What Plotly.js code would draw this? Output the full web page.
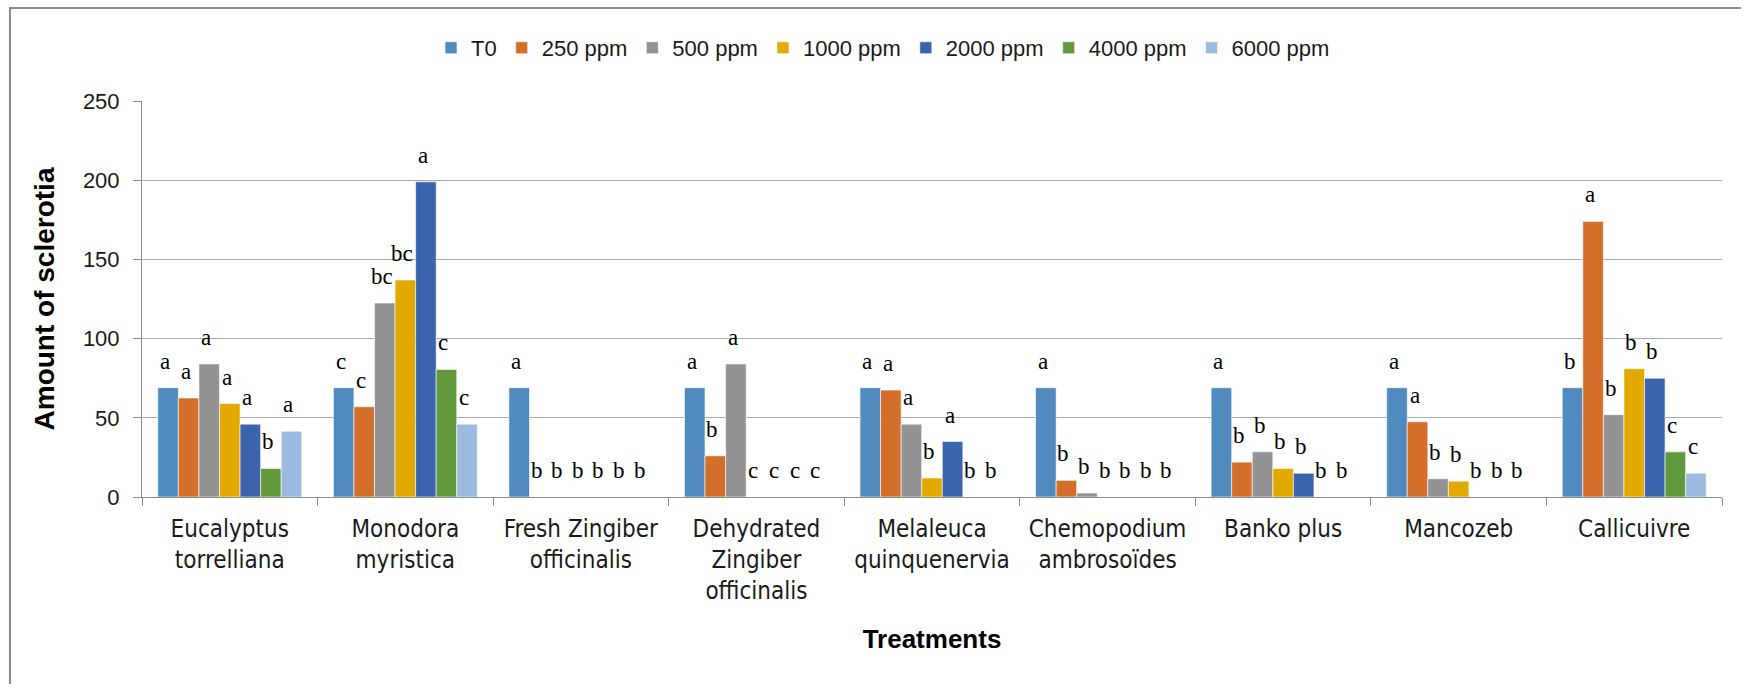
<!DOCTYPE html>
<html>
<head>
<meta charset="utf-8">
<script src="https://cdn.plot.ly/plotly-3.0.1.min.js"></script>
<style>
  html, body { margin: 0; padding: 0; background: #fff; overflow: hidden; width: 1745px; height: 688px; }
  #chart { position: absolute; left: 0; top: 0; width: 1745px; height: 688px; }
  #frame { position: absolute; left: 9px; top: 7px; width: 1730px; height: 675px;
           border-left: 2px solid #8c8c8c; border-top: 2px solid #8c8c8c; pointer-events: none; }
</style>
</head>
<body>
<div id="chart"></div>
<div id="frame"></div>
<script>
const categories = [
  "Eucalyptus<br>torrelliana",
  "Monodora<br>myristica",
  "Fresh Zingiber<br>officinalis",
  "Dehydrated<br>Zingiber<br>officinalis",
  "Melaleuca<br>quinquenervia",
  "Chemopodium<br>ambrosoïdes",
  "Banko plus",
  "Mancozeb",
  "Callicuivre"
];
const seriesNames = ["T0", "250 ppm", "500 ppm", "1000 ppm", "2000 ppm", "4000 ppm", "6000 ppm"];

const valuesT0   = [69, 69, 69, 69, 69, 69, 69, 69, 69];
const values250  = [62.5, 57, 0, 26, 67.5, 10.5, 22, 47.5, 174];
const values500  = [84, 122.5, 0, 84, 46, 2.5, 28.5, 11.5, 52];
const values1000 = [59, 137, 0, 0, 12, 0, 18, 10, 81];
const values2000 = [46, 199, 0, 0, 35, 0, 15, 0, 75];
const values4000 = [18, 80.5, 0, 0, 0, 0, 0, 0, 28.5];
const values6000 = [41.5, 46, 0, 0, 0, 0, 0, 0, 15];

const lettersT0   = ["a", "c", "a", "a", "a", "a", "a", "a", "b"];
const letters250  = ["a", "c", "b", "b", "a", "b", "b", "a", "a"];
const letters500  = ["a", "bc", "b", "a", "a", "b", "b", "b", "b"];
const letters1000 = ["a", "bc", "b", "c", "b", "b", "b", "b", "b"];
const letters2000 = ["a", "a", "b", "c", "a", "b", "b", "b", "b"];
const letters4000 = ["b", "c", "b", "c", "b", "b", "b", "b", "c"];
const letters6000 = ["a", "c", "b", "c", "b", "b", "b", "b", "c"];

const yTickVals = [0, 50, 100, 150, 200, 250];

const seriesValues = [valuesT0, values250, values500, values1000, values2000, values4000, values6000];
const seriesLetters = [lettersT0, letters250, letters500, letters1000, letters2000, letters4000, letters6000];
const colors = ["#508ABF", "#D36E2B", "#939393", "#E2AA00", "#3C64AD", "#63993D", "#9ABAE0"];

const W = 1745, H = 688;
const margin = {l: 142, r: 23, t: 101, b: 191};
const bargap = 0.18;
const plotW = W - margin.l - margin.r;
const groupW = plotW / categories.length;
const barW = groupW * (1 - bargap) / seriesNames.length;

const narrow = "Liberation Sans Narrow, DejaVu Sans Condensed, Arial Narrow, sans-serif";
const sans = "Liberation Sans, Arial, sans-serif";

const traces = seriesNames.map((name, i) => ({
  type: "bar",
  name: name,
  x: categories,
  y: seriesValues[i],
  marker: {color: colors[i], line: {color: "#ffffff", width: 0.6}},
  hoverinfo: "x+y+name"
}));

const annotations = [];
seriesValues.forEach((vals, i) => {
  vals.forEach((v, j) => {
    annotations.push({
      x: categories[j], y: v, xref: "x", yref: "y",
      text: seriesLetters[i][j],
      showarrow: false,
      xanchor: "center", yanchor: "bottom",
      xshift: (i - (seriesNames.length - 1) / 2) * barW - 3,
      yshift: 12,
      font: {family: "Liberation Serif, Times New Roman, serif", size: 23, color: "#000"}
    });
  });
});

const layout = {
  width: W, height: H,
  margin: margin,
  paper_bgcolor: "#ffffff",
  plot_bgcolor: "#ffffff",
  barmode: "group",
  bargap: bargap,
  bargroupgap: 0,
  showlegend: true,
  legend: {
    orientation: "h", x: 0.469, xanchor: "center", y: 1.134, yanchor: "middle",
    font: {family: sans, size: 22, color: "#1a1a1a"},
    traceorder: "normal", itemwidth: 30
  },
  xaxis: {
    type: "category",
    tickson: "boundaries",
    ticks: "outside", ticklen: 8, tickcolor: "#8c8c8c",
    showline: true, linecolor: "#8c8c8c", linewidth: 1,
    showgrid: false,
    tickfont: {family: narrow, size: 24, color: "#1a1a1a"},
    ticklabelstandoff: 10,
    automargin: false,
    title: {text: "Treatments", standoff: 25,
            font: {family: sans, size: 26, color: "#000", weight: "bold"}}
  },
  yaxis: {
    range: [0, 250],
    tickvals: yTickVals,
    ticktext: yTickVals.map(String),
    ticks: "outside", ticklen: 8, tickcolor: "#8c8c8c",
    showline: true, linecolor: "#8c8c8c", linewidth: 1,
    showgrid: true, gridcolor: "#a9a9a9", gridwidth: 1,
    zeroline: false,
    tickfont: {family: sans, size: 22, color: "#1a1a1a"},
    ticklabelstandoff: 9,
    automargin: false,
    title: {text: "Amount of sclerotia", standoff: 20,
            font: {family: sans, size: 28, color: "#000", weight: "bold"}}
  },
  annotations: annotations
};

Plotly.newPlot("chart", traces, layout, {displayModeBar: false, staticPlot: true});
</script>
</body>
</html>
